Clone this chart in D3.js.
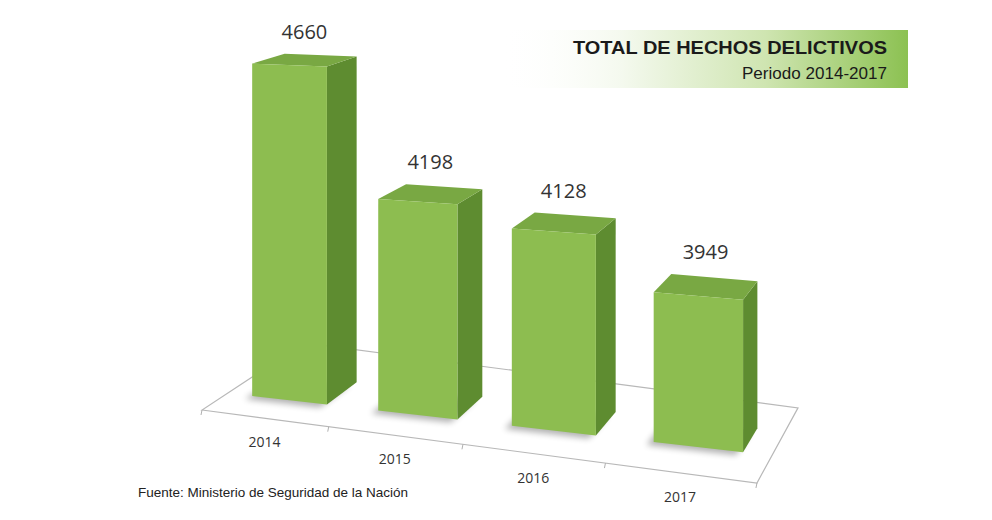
<!DOCTYPE html>
<html>
<head>
    <meta charset="utf-8" />
    <title>Total de hechos delictivos 2014-2017</title>
    <script src="https://d3js.org/d3.v7.min.js"></script>
    <style>
        body { margin: 0; background: #fff; }
        svg { display: block; }
    </style>
</head>
<body>
    <div id="the-chart"></div>
    <script>
        var years = ["2014", "2015", "2016", "2017"];
        var totals = [4660, 4198, 4128, 3949];
        var titleText = "TOTAL DE HECHOS DELICTIVOS",
            subtitleText = "Periodo 2014-2017",
            sourceText = "Fuente: Ministerio de Seguridad de la Nación";

        var svg = d3.select("#the-chart").append("svg")
            .attr("width", 992)
            .attr("height", 520);

        var defs = svg.append("defs");
        defs.append("filter").attr("id", "shadow")
            .attr("x", "-50%").attr("y", "-50%").attr("width", "200%").attr("height", "200%")
            .append("feGaussianBlur").attr("stdDeviation", 3);

        var grad = defs.append("linearGradient").attr("id", "title-bg")
            .attr("x1", "0%").attr("x2", "100%").attr("y1", "0%").attr("y2", "0%");
        grad.append("stop").attr("offset", "0%").attr("stop-color", "#ffffff").attr("stop-opacity", 0);
        grad.append("stop").attr("offset", "30%").attr("stop-color", "#f4f9ee");
        grad.append("stop").attr("offset", "65%").attr("stop-color", "#cfe5b1");
        grad.append("stop").attr("offset", "100%").attr("stop-color", "#8cc152");

        // depth lines run to this vanishing point
        var vp = [1130, -200];
        function toward(p, k) {
            return [p[0] + k * (vp[0] - p[0]), p[1] + k * (vp[1] - p[1])];
        }

        // category axis, with perspective along the front edge of the floor
        var u = d3.scaleBand().domain(years).range([0, years.length]);
        var pa = 117.5, pc = -0.02806;
        function floorX(t) { return (pa * t + 202) / (pc * t + 1); }
        var floorY = d3.scaleLinear().domain([202, 757]).range([410, 483]);
        function front(t) { var x = floorX(t); return [x, floorY(x)]; }
        function nearer(t) { return 1 / (pc * t + 1); }

        // bars stand a little behind the front edge
        var baseY = d3.scaleLinear().domain([252, 653]).range([396, 442]);
        var y = d3.scaleLinear().domain([3450, 4660]).range([0, 330]);

        var kIn = 0.02, kBar = 0.037, kFloor = 0.11;

        // floor
        var FL = front(0), FR = front(years.length);
        var floor = [FL, FR, toward(FR, kFloor), toward(FL, kFloor)];
        var g = svg.append("g");
        g.append("path")
            .attr("d", "M" + floor.join("L") + "Z")
            .attr("fill", "none")
            .attr("stroke", "#b8b8b8")
            .attr("stroke-width", 1.2);

        g.selectAll("line.tick")
            .data(d3.range(years.length + 1))
            .enter().append("line")
            .attr("class", "tick")
            .attr("x1", function (t) { return front(t)[0]; })
            .attr("y1", function (t) { return front(t)[1]; })
            .attr("x2", function (t) { return front(t)[0] - 1; })
            .attr("y2", function (t) { return front(t)[1] + 5; })
            .attr("stroke", "#b0b0b0");

        var bars = years.map(function (yr, i) {
            var t0 = u(yr) + 0.26, t1 = u(yr) + 0.86;
            var xL = toward(front(t0), kIn)[0], xR = toward(front(t1), kIn)[0];
            var fbL = [xL, baseY(xL)], fbR = [xR, baseY(xR)];
            var ftL = [xL, fbL[1] - y(totals[i]) * nearer(t0)],
                ftR = [xR, fbR[1] - y(totals[i]) * nearer(t1)];
            return {
                year: yr, value: totals[i],
                fbL: fbL, fbR: fbR, ftL: ftL, ftR: ftR,
                bbL: toward(fbL, kBar), bbR: toward(fbR, kBar),
                btL: toward(ftL, kBar), btR: toward(ftR, kBar)
            };
        });

        function poly(pts) { return "M" + pts.join("L") + "Z"; }

        var bar = g.selectAll("g.bar").data(bars).enter().append("g").attr("class", "bar");

        bar.append("path")
            .attr("d", function (d) {
                return poly([d.fbL, d.fbR, d.bbR, d.bbL].map(function (p) { return [p[0] - 7, p[1] + 3]; }));
            })
            .attr("fill", "#000")
            .attr("opacity", 0.3)
            .attr("filter", "url(#shadow)");

        bar.append("path")
            .attr("d", function (d) { return poly([d.fbR, d.bbR, d.btR, d.ftR]); })
            .attr("fill", "#5e8c30");

        bar.append("path")
            .attr("d", function (d) { return poly([d.ftL, d.ftR, d.btR, d.btL]); })
            .attr("fill", "#79a843");

        bar.append("path")
            .attr("d", function (d) { return poly([d.fbL, d.fbR, d.ftR, d.ftL]); })
            .attr("fill", "#8dbd50");

        bar.append("text")
            .attr("x", function (d) { return (d.ftL[0] + d.btR[0]) / 2; })
            .attr("y", function (d) { return Math.min(d.btL[1], d.btR[1]) - 15; })
            .attr("text-anchor", "middle")
            .style("font", "20px 'Open Sans', sans-serif")
            .attr("fill", "#333")
            .text(function (d) { return d.value; });

        g.selectAll("text.year")
            .data(years)
            .enter().append("text")
            .attr("class", "year")
            .attr("x", function (d) { return floorX(u(d) + 0.5); })
            .attr("y", function (d) { return floorY(floorX(u(d) + 0.5)) + 29; })
            .attr("text-anchor", "middle")
            .style("font", "14px 'Open Sans', sans-serif")
            .attr("fill", "#333")
            .text(function (d) { return d; });

        // title box
        svg.append("rect")
            .attr("x", 500).attr("y", 30)
            .attr("width", 408).attr("height", 58)
            .attr("fill", "url(#title-bg)");

        svg.append("text")
            .attr("x", 887).attr("y", 54)
            .attr("text-anchor", "end")
            .attr("textLength", 314)
            .attr("lengthAdjust", "spacingAndGlyphs")
            .style("font", "bold 19px 'Liberation Sans', Arial, sans-serif")
            .attr("fill", "#1a1a1a")
            .text(titleText);

        svg.append("text")
            .attr("x", 887).attr("y", 79)
            .attr("text-anchor", "end")
            .attr("textLength", 145)
            .attr("lengthAdjust", "spacingAndGlyphs")
            .style("font", "17px 'Liberation Sans', Arial, sans-serif")
            .attr("fill", "#1a1a1a")
            .text(subtitleText);

        svg.append("text")
            .attr("x", 138).attr("y", 497)
            .attr("textLength", 270)
            .attr("lengthAdjust", "spacingAndGlyphs")
            .style("font", "13px 'Liberation Sans', Arial, sans-serif")
            .attr("fill", "#222")
            .text(sourceText);
    </script>
</body>
</html>
